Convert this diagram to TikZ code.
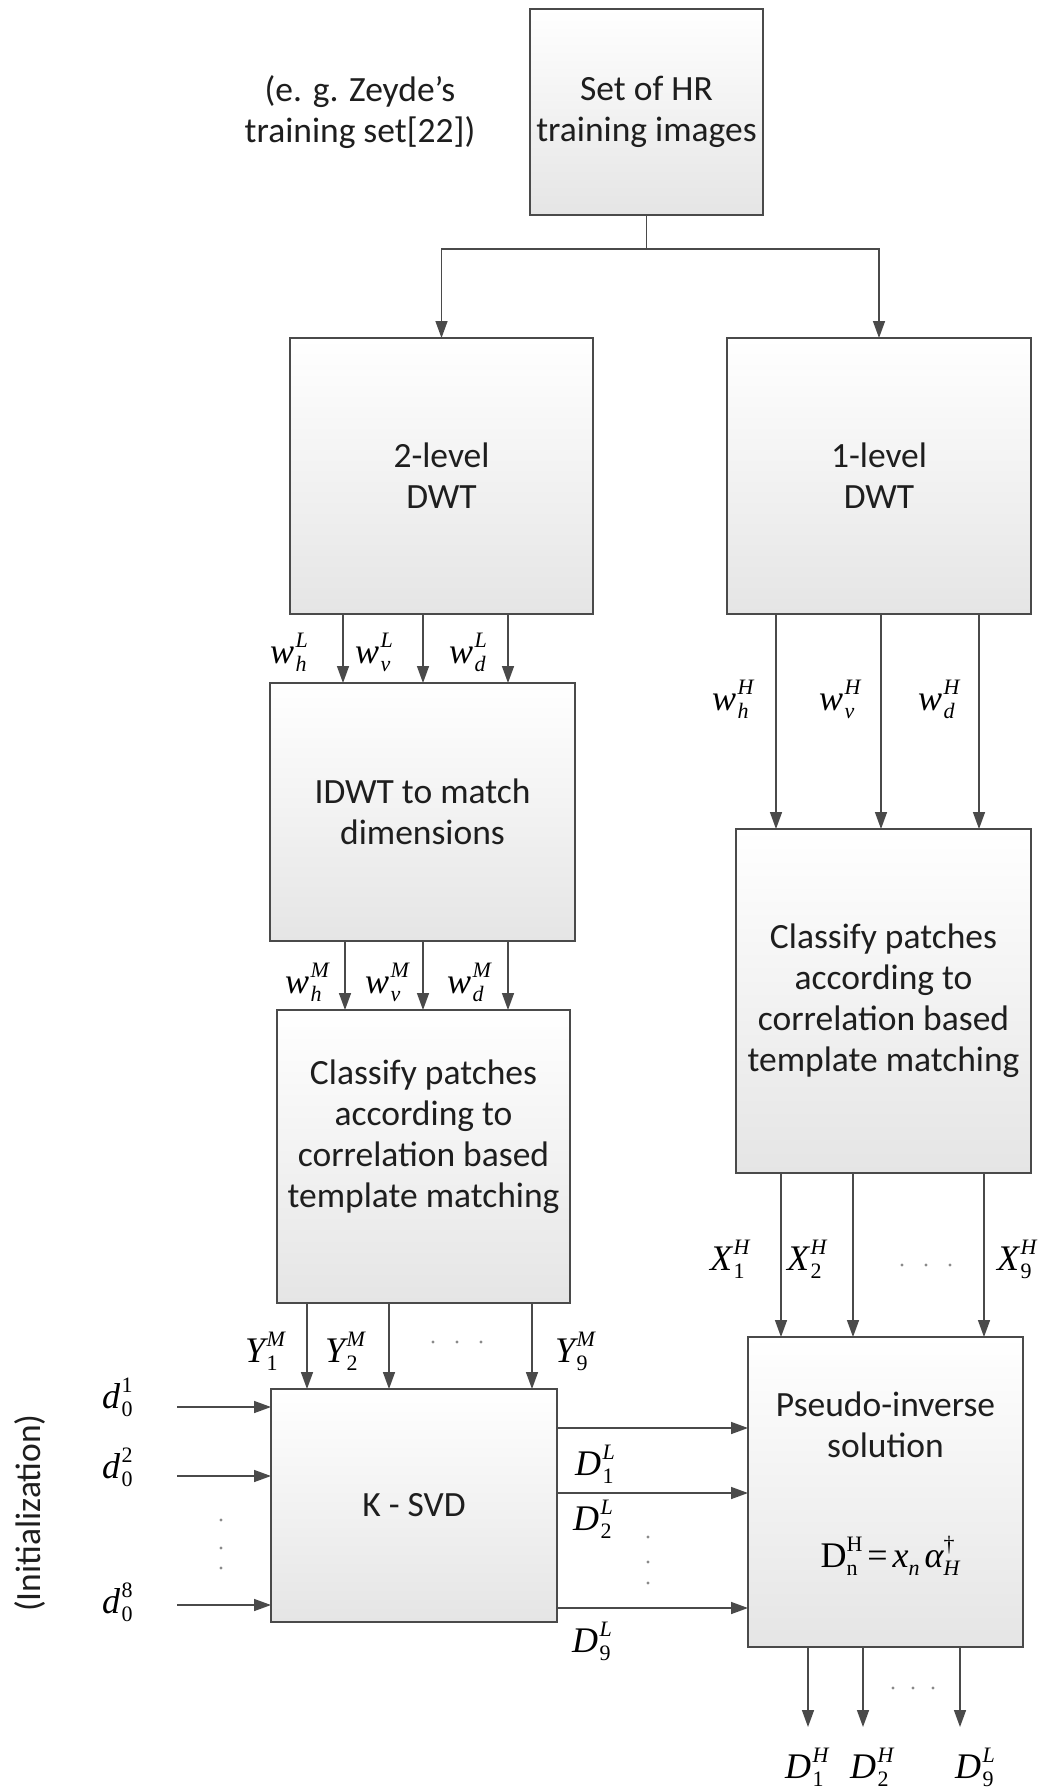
\documentclass[tikz,border=0pt]{standalone}
\usepackage{fontspec}
\setmainfont{Carlito}
\newfontfamily\mserif{Liberation Serif}
\usetikzlibrary{arrows.meta}
\definecolor{lncol}{HTML}{4A4A4A}
\definecolor{txtcol}{HTML}{1E1E1E}
\definecolor{boxbot}{HTML}{E5E5E5}
\definecolor{dotcol}{HTML}{8A8A8A}
\newcommand\mlscript{\mserif\fontsize{22}{22}\selectfont}
\newcommand\mlstack[2]{\setbox0=\hbox{\mlscript #1}\setbox2=\hbox{\mlscript #2}\dimen0=\wd0 \ifdim\wd2>\dimen0 \dimen0=\wd2 \fi\rlap{\lower8pt\box0}\rlap{\raise16pt\box2}\kern\dimen0\relax}
\newcommand\ml[3]{{\mserif\itshape #1}\kern1.5pt\mlstack{#2}{#3}}
\begin{document}
\begin{tikzpicture}[x=1pt,y=-1pt,
  box/.style={draw=lncol, line width=1.6pt, top color=white, bottom color=boxbot,
    inner sep=0pt, outer sep=0pt, anchor=north west, align=center,
    font=\fontsize{35.5}{41}\selectfont, text=txtcol},
  txt/.style={inner sep=0pt, align=center, font=\fontsize{35.5}{41}\selectfont, text=txtcol},
  lab/.style={inner sep=0pt, anchor=base west, font=\mserif\fontsize{36}{36}\selectfont, text=black},
  ln/.style={draw=lncol, line width=1.5pt},
  arr/.style={draw=lncol, line width=1.5pt, -{Triangle[length=17pt,width=12pt]}},
  dotf/.style={fill=dotcol}]
\path[use as bounding box, fill=white] (0,0) rectangle (1056,1791);

% boxes
\node[box, minimum width=233pt, minimum height=206pt] (top) at (530,9) {Set of HR\\training images};
\node[txt] (note) at (360,112) {(e. g. Zeyde’s\\training set[22])};
\node[box, minimum width=303pt, minimum height=276pt] (dwt2) at (290,338) {2-level\\DWT};
\node[box, minimum width=304pt, minimum height=276pt] (dwt1) at (727,338) {1-level\\DWT};
\node[box, minimum width=305pt, minimum height=258pt] (idwt) at (270,683) {IDWT to match\\dimensions};
\node[box, minimum width=293pt, minimum height=293pt] (clsl) at (277,1010) {};
\node[txt] (clsltxt) at (423.5,1137) {Classify patches\\according to\\correlation based\\template matching};
\node[box, minimum width=295pt, minimum height=344pt] (clsr) at (736,829) {Classify patches\\according to\\correlation based\\template matching};
\node[box, minimum width=286pt, minimum height=233pt] (ksvd) at (271,1389) {K - SVD};
\node[box, minimum width=275pt, minimum height=310pt] (pinv) at (748,1337) {};
\node[txt] (pinvtxt) at (885.5,1425) {Pseudo-inverse\\solution};
\node[lab, anchor=base] (formula) at (890,1567) {\mserif D\mlstack{n}{H}\kern5pt=\kern5pt{\itshape x}\mlstack{\itshape n}{}\kern5pt{\itshape α}\mlstack{\itshape H}{†}};
\node[txt, rotate=90] (init) at (30,1513) {(Initialization)};

% top junction
\coordinate (j) at (top.south |- 0,249);
\draw[ln] (top.south) -- (j);
\draw[arr] (j) -| (dwt2.north);
\draw[arr] (j) -| (dwt1.north);

% DWT2 -> IDWT
\coordinate (a1) at (343,0); \coordinate (a2) at (423,0); \coordinate (a3) at (508,0);
\draw[arr] (dwt2.south -| a1) -- (idwt.north -| a1);
\draw[arr] (dwt2.south -| a2) -- (idwt.north -| a2);
\draw[arr] (dwt2.south -| a3) -- (idwt.north -| a3);
\node[lab] (wlh) at (270,663) {\ml{w}{\itshape h}{\itshape L}};
\node[lab] (wlv) at (355,663) {\ml{w}{\itshape v}{\itshape L}};
\node[lab] (wld) at (449,663) {\ml{w}{\itshape d}{\itshape L}};

% IDWT -> Classify left
\coordinate (b1) at (345,0); \coordinate (b2) at (423,0); \coordinate (b3) at (508,0);
\draw[arr] (idwt.south -| b1) -- (clsl.north -| b1);
\draw[arr] (idwt.south -| b2) -- (clsl.north -| b2);
\draw[arr] (idwt.south -| b3) -- (clsl.north -| b3);
\node[lab] (wmh) at (285,993) {\ml{w}{\itshape h}{\itshape M}};
\node[lab] (wmv) at (365,993) {\ml{w}{\itshape v}{\itshape M}};
\node[lab] (wmd) at (447,993) {\ml{w}{\itshape d}{\itshape M}};

% Classify left -> KSVD
\coordinate (c1) at (307,0); \coordinate (c2) at (389,0); \coordinate (c3) at (532,0);
\draw[arr] (clsl.south -| c1) -- (ksvd.north -| c1);
\draw[arr] (clsl.south -| c2) -- (ksvd.north -| c2);
\draw[arr] (clsl.south -| c3) -- (ksvd.north -| c3);
\node[lab] (y1) at (245,1362) {\ml{Y}{1}{\itshape M}};
\node[lab] (y2) at (325,1362) {\ml{Y}{2}{\itshape M}};
\node[lab] (y9) at (555,1362) {\ml{Y}{9}{\itshape M}};
\fill[dotf] (433,1342) circle (1.6pt) (457,1342) circle (1.6pt) (481,1342) circle (1.6pt);

% DWT1 -> Classify right
\coordinate (e1) at (776,0); \coordinate (e2) at (881,0); \coordinate (e3) at (979,0);
\draw[arr] (dwt1.south -| e1) -- (clsr.north -| e1);
\draw[arr] (dwt1.south -| e2) -- (clsr.north -| e2);
\draw[arr] (dwt1.south -| e3) -- (clsr.north -| e3);
\node[lab] (whh) at (712,710) {\ml{w}{\itshape h}{\itshape H}};
\node[lab] (whv) at (819,710) {\ml{w}{\itshape v}{\itshape H}};
\node[lab] (whd) at (918,710) {\ml{w}{\itshape d}{\itshape H}};

% Classify right -> Pseudo-inverse
\coordinate (f1) at (781,0); \coordinate (f2) at (853,0); \coordinate (f3) at (984,0);
\draw[arr] (clsr.south -| f1) -- (pinv.north -| f1);
\draw[arr] (clsr.south -| f2) -- (pinv.north -| f2);
\draw[arr] (clsr.south -| f3) -- (pinv.north -| f3);
\node[lab] (x1) at (710,1270) {\ml{X}{1}{\itshape H}};
\node[lab] (x2) at (787,1270) {\ml{X}{2}{\itshape H}};
\node[lab] (x9) at (997,1270) {\ml{X}{9}{\itshape H}};
\fill[dotf] (902,1265) circle (1.6pt) (926,1265) circle (1.6pt) (950,1265) circle (1.6pt);

% initial dictionaries -> KSVD
\coordinate (d1) at (177,1407); \coordinate (d2) at (177,1476); \coordinate (d8) at (177,1605);
\draw[arr] (d1) -- (ksvd.west |- d1);
\draw[arr] (d2) -- (ksvd.west |- d2);
\draw[arr] (d8) -- (ksvd.west |- d8);
\node[lab] (ld1) at (102,1408) {\ml{d}{0}{1}};
\node[lab] (ld2) at (102,1478) {\ml{d}{0}{2}};
\node[lab] (ld8) at (102,1613) {\ml{d}{0}{8}};
\fill[dotf] (221,1520) circle (1.6pt) (221,1548) circle (1.6pt) (221,1568) circle (1.6pt);

% KSVD -> Pseudo-inverse
\coordinate (h1) at (0,1428); \coordinate (h2) at (0,1493); \coordinate (h3) at (0,1608);
\draw[arr] (ksvd.east |- h1) -- (pinv.west |- h1);
\draw[arr] (ksvd.east |- h2) -- (pinv.west |- h2);
\draw[arr] (ksvd.east |- h3) -- (pinv.west |- h3);
\node[lab] (dl1) at (575,1475) {\ml{D}{1}{\itshape L}};
\node[lab] (dl2) at (573,1530) {\ml{D}{2}{\itshape L}};
\node[lab] (dl9) at (572,1652) {\ml{D}{9}{\itshape L}};
\fill[dotf] (648,1537) circle (1.6pt) (648,1562) circle (1.6pt) (648,1583) circle (1.6pt);

% outputs
\coordinate (o1) at (808,1727); \coordinate (o2) at (863,1727); \coordinate (o3) at (960,1727);
\draw[arr] (pinv.south -| o1) -- (o1);
\draw[arr] (pinv.south -| o2) -- (o2);
\draw[arr] (pinv.south -| o3) -- (o3);
\fill[dotf] (893,1688) circle (1.6pt) (913,1688) circle (1.6pt) (933,1688) circle (1.6pt);
\node[lab] (dh1) at (785,1778) {\ml{D}{1}{\itshape H}};
\node[lab] (dh2) at (850,1778) {\ml{D}{2}{\itshape H}};
\node[lab] (dh9) at (955,1778) {\ml{D}{9}{\itshape L}};
\end{tikzpicture}
\end{document}
